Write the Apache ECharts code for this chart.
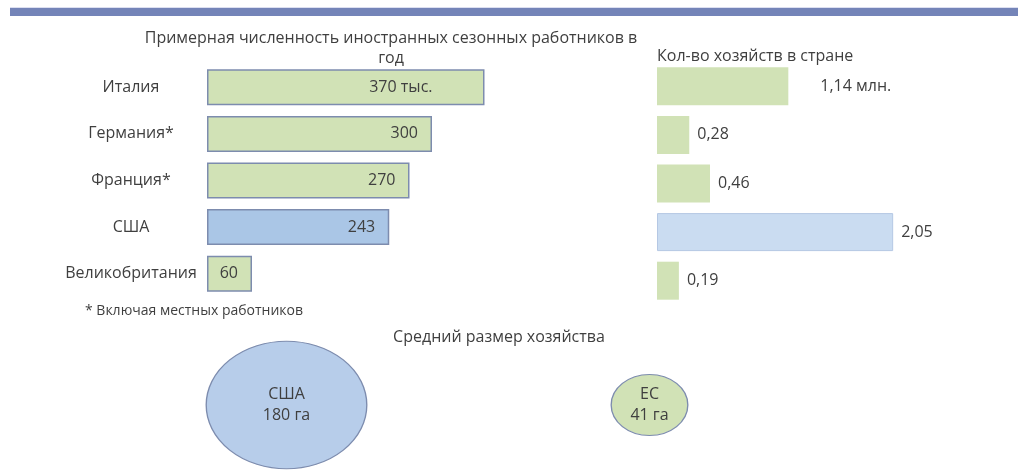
<!DOCTYPE html>
<html>
<head>
<meta charset="utf-8">
<script src="https://cdn.jsdelivr.net/npm/echarts@6/dist/echarts.min.js"></script>
<style>
html,body{margin:0;padding:0;background:#fff;}
#main{width:1018px;height:471px;}
</style>
</head>
<body>
<div id="main"></div>
<script>
var countries = ['Италия', 'Германия*', 'Франция*', 'США', 'Великобритания'];
var workers = [370, 300, 270, 243, 60];          // тыс. человек
var farms = [1.14, 0.28, 0.46, 2.05, 0.19];      // млн. хозяйств
var farmSizeNames = ['США', 'ЕС'];
var farmSize = [180, 41];                         // га

var FONT = 'Open Sans';
var TXT = '#3f3f3f';
var GREEN = '#d1e2b6';
var BLUE = '#aac6e6';
var BLUE_LIGHT = '#cadcf1';
var EDGE = '#7d8cae';

var chart = echarts.init(document.getElementById('main'));

var option = {
    animation: false,
    textStyle: { fontFamily: FONT },
    title: [
        {
            text: 'Примерная численность иностранных сезонных работников в\nгод',
            left: 386, top: 23, textAlign: 'center',
            textStyle: { fontSize: 16, fontWeight: 'normal', color: TXT, lineHeight: 20, align: 'center' }
        },
        {
            text: 'Кол-во хозяйств в стране',
            left: 652, top: 43,
            textStyle: { fontSize: 16, fontWeight: 'normal', color: TXT }
        },
        {
            text: '* Включая местных работников',
            left: 80, top: 299,
            textStyle: { fontSize: 14, fontWeight: 'normal', color: TXT }
        },
        {
            text: 'Средний размер хозяйства',
            left: 494, top: 324, textAlign: 'center',
            textStyle: { fontSize: 16, fontWeight: 'normal', color: TXT }
        }
    ],
    graphic: [
        { type: 'rect', shape: { x: 10, y: 7, width: 1008, height: 1 }, style: { fill: '#dcdff0' } },
        { type: 'rect', shape: { x: 10, y: 8, width: 1008, height: 8 }, style: { fill: '#7484b8' } }
    ],
    grid: [
        { left: 207, top: 64, width: 300, height: 233 },
        { left: 657, top: 62, width: 288, height: 243 },
        { left: 105, top: 341, width: 726, height: 128 }
    ],
    xAxis: [
        { gridIndex: 0, type: 'value', min: 0, max: 400, show: false },
        { gridIndex: 1, type: 'value', min: 0, max: 2.5, show: false },
        { gridIndex: 2, type: 'category', data: farmSizeNames, show: false }
    ],
    yAxis: [
        {
            gridIndex: 0, type: 'category', data: countries, inverse: true,
            axisLine: { show: false }, axisTick: { show: false },
            axisLabel: { fontSize: 16, color: TXT, align: 'center', margin: 76 }
        },
        {
            gridIndex: 1, type: 'category', data: countries, inverse: true, show: false
        },
        { gridIndex: 2, type: 'category', data: [''], show: false }
    ],
    series: [
        {
            type: 'bar', xAxisIndex: 0, yAxisIndex: 0, barWidth: 36,
            data: workers.map(function (v, i) {
                return {
                    value: v,
                    itemStyle: { color: countries[i] === 'США' ? BLUE : GREEN },
                    label: { distance: i === 0 ? 52 : 14 }
                };
            }),
            itemStyle: { borderColor: EDGE, borderWidth: 1.5 },
            label: {
                show: true, position: 'insideRight', fontSize: 16, color: TXT,
                formatter: function (p) { return p.dataIndex === 0 ? p.value + ' тыс.' : p.value; }
            }
        },
        {
            type: 'bar', xAxisIndex: 1, yAxisIndex: 1, barWidth: 38,
            data: farms.map(function (v, i) {
                return {
                    value: v,
                    itemStyle: countries[i] === 'США'
                        ? { color: BLUE_LIGHT, borderColor: '#b5c8e4', borderWidth: 1 }
                        : { color: GREEN },
                    label: { distance: i === 0 ? 32 : 8 }
                };
            }),
            label: {
                show: true, position: 'right', fontSize: 16, color: TXT,
                formatter: function (p) {
                    var s = p.value.toFixed(2).replace('.', ',');
                    return p.dataIndex === 0 ? s + ' млн.' : s;
                }
            }
        },
        {
            type: 'scatter', xAxisIndex: 2, yAxisIndex: 2,
            symbol: 'circle',
            symbolSize: function (val) {
                var d = 9.5 * Math.sqrt(val[2]);
                return [d * 1.26, d];
            },
            data: farmSize.map(function (v, i) {
                return {
                    value: [i, 0, v],
                    itemStyle: { color: i === 0 ? '#b7cdea' : GREEN }
                };
            }),
            itemStyle: { borderColor: EDGE, borderWidth: 1.2, opacity: 1 },
            label: {
                show: true, position: 'inside', fontSize: 16, color: TXT, lineHeight: 21,
                formatter: function (p) { return farmSizeNames[p.dataIndex] + '\n' + p.value[2] + ' га'; }
            }
        }
    ]
};

chart.setOption(option);

window.addEventListener('resize', function () {
    chart.resize();
});
</script>
</body>
</html>
